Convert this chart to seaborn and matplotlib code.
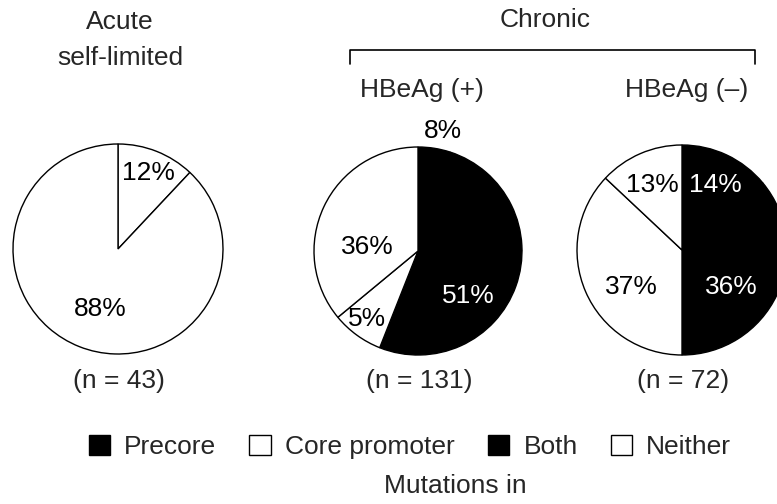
import numpy as np
import matplotlib.pyplot as plt
import seaborn as sns
from matplotlib.patches import Patch

# Mutation categories and legend colours (scan shows precore/both black)
categories = ['Precore', 'Core promoter', 'Both', 'Neither']
cat_colors = {'Precore': 'black', 'Core promoter': 'white', 'Both': 'black', 'Neither': 'white'}

# Slices, clockwise from 12 o'clock
acute_cats = ['Core promoter', 'Neither']
acute_vals = [12, 88]
acute_labels = ['12%', '88%']
# wedge sizes as drawn in the scan (the two small labels are printed swapped)
hbe_pos_cats = ['Precore', 'Both', 'Core promoter', 'Neither']
hbe_pos_vals = [5, 51, 8, 36]
hbe_pos_labels = ['8%', '51%', '5%', '36%']
hbe_neg_cats = ['Precore', 'Both', 'Neither', 'Core promoter']
hbe_neg_vals = [14, 36, 37, 13]
hbe_neg_labels = ['14%', '36%', '37%', '13%']

group_titles = ['Acute\nself-limited', 'HBeAg (+)', 'HBeAg (\u2013)']
n_labels = ['(n = 43)', '(n = 131)', '(n = 72)']

W, H = 777, 504
sns.set_style('white')
plt.rcParams['font.family'] = ['Liberation Sans', 'DejaVu Sans']
FS = 19

fig = plt.figure(figsize=(W / 100, H / 100), dpi=100)
ax = fig.add_axes([0, 0, 1, 1])


def Y(y):
    return H - y


# pie layout: centre (px), radius, label placement (angle shift, distance)
pies = [
    (acute_cats, acute_vals, acute_labels, (118, 249), 105, [(0, 0.78), (-5, 0.6)]),
    (hbe_pos_cats, hbe_pos_vals, hbe_pos_labels, (418, 251), 104,
     [(2.7, 1.18), (22, 0.65), (1, 0.82), (-20.7, 0.49)]),
    (hbe_neg_cats, hbe_neg_vals, hbe_neg_labels, (682, 250), 105,
     [(2, 0.695), (12, 0.585), (-12.6, 0.6), (-1.4, 0.68)]),
]

for cats, vals, labels, (cx, cy), r, lab in pies:
    cols = [cat_colors[c] for c in cats]
    ax.pie(vals, colors=cols, startangle=90, counterclock=False,
           center=(cx, Y(cy)), radius=r,
           wedgeprops=dict(edgecolor='black', linewidth=1.0))
    cum = np.cumsum([0] + vals) / sum(vals) * 360
    for i, txt in enumerate(labels):
        mid = (cum[i] + cum[i + 1]) / 2 + lab[i][0]
        d = lab[i][1] * r
        tx = cx + d * np.sin(np.radians(mid))
        ty = cy - d * np.cos(np.radians(mid))
        tc = 'white' if (cols[i] == 'black' and lab[i][1] < 1) else 'black'
        ax.text(tx, Y(ty), txt, color=tc, fontsize=FS, ha='center', va='center')

# group titles and sample sizes
ax.text(120, Y(40), group_titles[0], fontsize=FS, ha='center', va='center', linespacing=1.62)
ax.text(422, Y(90), group_titles[1], fontsize=FS, ha='center', va='center')
ax.text(687, Y(90), group_titles[2], fontsize=FS, ha='center', va='center')
for p, nl in zip(pies, n_labels):
    ax.text(p[3][0] + 1, Y(381), nl, fontsize=FS, ha='center', va='center')

# chronic bracket
ax.text(545, Y(20), 'Chronic', fontsize=FS, ha='center', va='center')
ax.plot([350, 350, 755, 755], [Y(64), Y(50), Y(50), Y(64)], color='black', lw=1.2)

ax.set_xlim(0, W)
ax.set_ylim(0, H)
ax.set_aspect('auto')
ax.axis('off')

handles = [Patch(facecolor=cat_colors[c], edgecolor='black', linewidth=1.0) for c in categories]
fig.legend(handles, categories, loc='center', bbox_to_anchor=(410 / W, 1 - 447 / H),
           ncol=4, frameon=False, fontsize=FS, handlelength=0.8, handleheight=0.8,
           handletextpad=0.55, columnspacing=1.25)
fig.text(455 / W, 1 - 486 / H, 'Mutations in', fontsize=FS, ha='center', va='center')

fig.savefig('out.png', dpi=100)
